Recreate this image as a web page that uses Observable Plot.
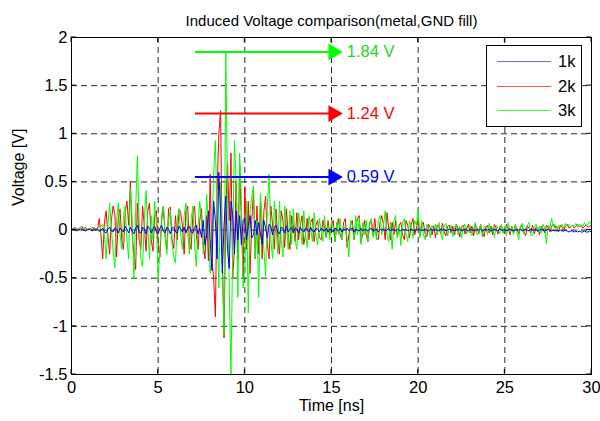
<!DOCTYPE html>
<html><head><meta charset="utf-8">
<script src="https://cdn.jsdelivr.net/npm/d3@7"></script>
<script src="https://cdn.jsdelivr.net/npm/@observablehq/plot@0.6"></script>
<style>body{margin:0;background:#fff;} #chart{width:600px;height:421px;}</style>
</head><body><div id="chart"></div>
<script>
const seriesNames = ["1k", "2k", "3k"];
const seriesColors = ["#0000ff", "#ff0000", "#00ff00"];
const legendColors = ["#6b6bff", "#ff5050", "#40ff40"];
const timeStart = 0;
const timeStep = 0.1;

const v1k = [
 0.00,0.01,0.00,-0.01,0.01,0.00,0.01,0.00,-0.01,0.00,
 0.01,0.00,-0.01,0.01,0.00,0.01,-0.01,0.00,0.02,-0.02,
 -0.03,0.01,0.03,-0.01,-0.02,0.02,0.01,-0.03,0.02,0.00,
 -0.02,0.04,0.01,-0.03,0.03,-0.01,-0.04,0.02,0.05,-0.02,
 -0.03,0.03,0.01,-0.04,0.04,0.02,-0.03,0.01,0.04,-0.02,
 -0.04,0.02,0.05,-0.01,-0.03,0.03,0.01,-0.04,0.02,0.03,
 -0.02,-0.03,0.04,0.01,-0.02,0.03,-0.03,0.02,0.04,-0.02,
 -0.03,0.03,0.05,-0.04,0.02,-0.08,0.10,-0.15,-0.05,0.20,
 -0.10,-0.42,0.30,0.10,-0.30,0.60,0.20,-0.45,0.05,0.35,
 -0.20,-0.40,0.30,0.15,-0.25,0.20,-0.10,0.15,-0.15,0.10,
 0.12,-0.10,0.05,0.15,-0.08,-0.05,0.10,-0.05,0.08,-0.04,
 -0.15,0.10,0.02,-0.08,0.06,0.04,-0.05,0.03,0.05,-0.02,
 -0.04,0.03,0.02,-0.03,0.04,-0.02,0.01,0.03,-0.03,0.02,
 0.01,-0.03,0.03,0.00,-0.02,0.02,0.01,-0.02,0.03,-0.01,
 -0.02,0.02,0.01,-0.02,0.02,0.00,-0.01,0.02,-0.02,0.01,
 0.00,-0.02,0.02,0.01,-0.01,0.02,-0.02,0.01,0.00,0.02,
 -0.01,0.01,0.02,-0.02,0.01,0.00,-0.01,0.02,-0.01,0.01,
 0.00,-0.01,0.01,0.02,-0.01,0.00,0.01,-0.02,0.01,0.00,
 0.01,-0.01,0.00,0.02,-0.01,0.01,0.00,-0.01,0.01,0.00,
 -0.01,0.01,0.00,0.01,-0.01,0.00,0.01,0.00,-0.01,0.01,
 0.00,0.01,-0.01,0.00,0.01,0.00,-0.01,0.01,0.00,0.00,
 0.01,0.00,-0.01,0.01,0.00,0.01,-0.01,0.00,0.01,0.00,
 0.00,-0.01,0.01,0.00,0.01,-0.01,0.00,0.01,0.00,-0.01,
 0.01,0.00,0.00,-0.01,0.01,0.00,0.01,-0.01,0.00,0.01,
 0.00,0.01,-0.01,0.00,0.01,0.00,-0.01,0.01,0.00,0.00,
 0.01,-0.01,0.00,0.01,0.00,-0.01,0.01,0.00,0.00,0.01,
 -0.01,0.00,0.01,0.00,-0.01,0.01,0.00,0.00,0.01,-0.01,
 0.00,0.01,0.00,-0.01,0.00,0.01,0.00,-0.01,0.00,-0.01,
 0.00,-0.01,0.00,-0.01,-0.01,0.00,-0.01,-0.02,-0.01,-0.01,
 -0.02,-0.01,-0.02,-0.01,-0.02,-0.02,-0.01,-0.02,-0.02,-0.01,
 -0.02
];

const v2k = [
 0.02,0.00,0.03,0.01,-0.01,0.02,0.04,0.00,0.03,0.01,
 0.00,0.02,-0.01,0.03,0.01,0.00,0.12,-0.05,-0.30,0.08,
 0.20,-0.05,-0.25,0.10,0.25,0.17,-0.28,0.12,0.22,-0.10,
 -0.20,0.18,0.30,0.05,0.51,-0.05,-0.25,-0.41,0.28,-0.10,
 -0.20,0.25,0.05,-0.22,0.20,0.28,-0.10,-0.22,0.15,0.20,
 -0.15,-0.28,0.10,0.25,-0.05,-0.20,0.22,0.24,-0.10,-0.19,
 0.15,-0.10,0.22,0.18,0.05,-0.25,0.20,0.25,-0.12,-0.20,
 0.15,0.25,-0.05,-0.20,0.10,0.22,-0.15,-0.30,0.15,-0.32,
 0.58,-0.30,-0.50,-0.90,0.40,1.00,1.24,-0.30,-1.12,0.20,
 0.70,0.10,0.80,-0.50,-0.20,0.50,-0.30,0.69,0.10,-0.50,
 0.45,-0.20,0.30,-0.45,0.10,0.40,-0.30,0.25,-0.25,0.30,
 -0.30,0.20,0.35,-0.15,-0.30,0.25,0.05,-0.20,0.22,-0.10,
 -0.25,0.20,0.10,-0.18,0.22,-0.05,-0.20,0.15,0.05,-0.12,
 0.18,-0.10,0.05,0.15,-0.15,-0.05,0.12,-0.10,0.08,0.12,
 -0.12,0.05,0.10,-0.08,-0.10,0.10,0.02,-0.08,0.10,-0.05,
 0.05,0.10,-0.12,0.02,0.12,-0.05,-0.10,0.08,0.12,-0.18,
 -0.05,0.05,0.10,-0.10,0.02,0.12,0.15,-0.12,-0.05,0.10,
 -0.05,-0.12,0.08,0.10,-0.05,0.12,-0.08,-0.10,0.08,0.15,
 0.05,-0.10,0.18,0.02,-0.10,0.08,-0.05,0.10,-0.08,0.05,
 0.08,-0.05,-0.10,0.10,0.05,-0.08,0.06,0.12,-0.05,0.02,
 0.10,-0.06,0.05,0.08,-0.04,-0.07,0.06,0.02,-0.05,0.04,
 -0.08,0.05,0.03,-0.04,0.07,-0.02,-0.06,0.04,0.05,-0.03,
 0.04,-0.05,0.06,0.02,-0.07,0.03,0.05,-0.04,0.02,0.06,
 -0.03,0.04,-0.06,0.05,0.02,-0.04,0.06,-0.02,-0.07,0.03,
 0.05,-0.03,0.04,-0.05,0.06,0.02,-0.04,0.03,0.05,-0.02,
 -0.04,0.06,0.02,-0.05,0.04,-0.03,0.05,0.02,-0.04,0.03,
 0.05,-0.02,-0.06,0.04,0.02,-0.03,0.05,-0.04,0.03,0.02,
 -0.05,0.04,0.02,-0.03,0.05,0.03,-0.02,0.04,0.06,0.02,
 0.04,-0.02,0.05,0.03,0.00,0.04,0.06,0.02,0.03,0.05,
 0.02,0.04,0.06,0.03,0.05,0.02,0.04,0.05,0.03,0.04,
 0.05
];

const v3k = [
 0.01,0.02,0.00,0.02,0.01,0.03,0.00,0.02,0.01,0.00,
 0.02,0.01,0.03,0.00,0.02,0.01,-0.02,0.04,0.06,-0.05,
 -0.30,0.05,0.28,0.02,-0.22,-0.39,0.10,0.28,-0.05,-0.20,
 0.15,0.25,-0.10,-0.30,0.44,0.10,-0.51,0.20,0.77,0.10,
 -0.30,-0.38,0.10,0.41,0.05,-0.30,0.15,-0.10,0.30,0.05,
 -0.51,-0.20,0.15,0.25,-0.05,-0.25,0.10,0.20,-0.15,-0.28,
 -0.34,0.10,0.22,-0.05,-0.20,0.15,0.28,0.00,-0.25,0.10,
 0.25,-0.15,-0.38,0.05,0.30,0.10,-0.25,-0.10,0.37,0.05,
 -0.45,-0.20,0.60,0.93,0.10,-0.60,0.50,-0.30,-1.08,1.84,
 0.40,-0.60,-1.50,-0.20,0.93,0.50,-0.70,0.80,0.30,-0.60,
 -0.40,0.30,-0.86,0.20,0.35,0.46,-0.30,0.10,-0.70,0.38,
 0.10,-0.20,-0.48,0.25,0.58,-0.10,-0.30,0.30,0.05,-0.25,
 0.30,-0.10,-0.28,0.25,0.05,-0.20,0.20,-0.15,0.22,-0.10,
 -0.20,0.18,0.05,-0.15,0.20,-0.05,-0.18,0.15,0.02,-0.12,
 0.18,-0.05,-0.15,0.12,0.00,-0.12,0.15,-0.08,0.05,-0.10,
 0.10,0.02,-0.12,0.08,-0.05,0.12,-0.10,0.05,0.00,-0.08,
 -0.28,0.10,0.05,-0.10,0.15,-0.05,0.12,-0.15,0.08,-0.05,
 0.10,-0.12,0.05,0.12,-0.08,0.02,-0.10,0.10,0.15,-0.05,
 0.05,0.20,-0.05,-0.12,0.08,-0.20,0.10,0.15,-0.08,0.05,
 -0.16,0.08,0.12,-0.05,-0.12,0.10,0.02,-0.08,0.10,0.05,
 0.22,-0.08,0.10,-0.04,-0.10,0.06,0.02,-0.08,0.05,0.00,
 0.06,-0.05,0.08,-0.03,-0.10,0.04,0.07,-0.06,0.02,0.05,
 -0.07,0.03,0.06,-0.05,0.04,-0.08,0.02,0.06,-0.04,0.03,
 0.05,-0.06,0.02,0.08,-0.05,-0.02,0.06,-0.07,0.03,0.04,
 -0.05,0.07,-0.02,0.03,-0.08,0.05,0.02,-0.04,0.06,-0.03,
 0.04,-0.06,0.08,-0.02,0.03,-0.05,0.06,-0.03,-0.10,0.04,
 0.07,-0.04,0.02,0.05,0.08,-0.06,-0.05,0.03,0.06,-0.02,
 0.04,-0.03,0.06,0.02,-0.14,0.05,0.02,0.12,0.03,0.06,
 -0.02,0.05,0.03,0.06,0.02,0.07,0.04,0.06,0.03,0.05,
 0.04,0.07,0.03,0.06,0.05,0.04,0.08,0.05,0.06,0.09,
 0.06
];

const xTicks = [0, 5, 10, 15, 20, 25, 30];
const yTicks = [-1.5, -1, -0.5, 0, 0.5, 1, 1.5, 2];

// peak annotations
const arrowLevels = [0.55, 1.21, 1.85];
const arrowLabels = ["0.59 V", "1.24 V", "1.84 V"];
const arrowLineColors = ["#0000ff", "#ff0000", "#00ff00"];
const arrowTextColors = ["#0000ff", "#ff0000", "#22d422"];
const arrowFrom = 7.15;
const arrowHeadAt = 15.1;
const arrowTip = 15.65;

const titleText = "Induced Voltage comparison(metal,GND fill)";
const xLabel = "Time [ns]";
const yLabel = "Voltage [V]";

const seriesValues = [v1k, v2k, v3k];
const rows = [];
seriesValues.forEach((vals, k) => vals.forEach((v, i) => rows.push({t: timeStart + i * timeStep, v, s: seriesNames[k]})));
const arrows = arrowLevels.map((y, i) => ({y, label: arrowLabels[i], line: arrowLineColors[i], text: arrowTextColors[i], x1: arrowFrom, x2: arrowHeadAt, tip: arrowTip}));

const font = "Arial, 'Liberation Sans', Helvetica, sans-serif";
const fmt = d => String(d);

const chart = Plot.plot({
  width: 600, height: 421,
  marginLeft: 71, marginRight: 9, marginTop: 37, marginBottom: 47,
  style: {fontFamily: font, fontSize: "16px", background: "#fff", color: "#000"},
  x: {domain: [0, 30]},
  y: {domain: [-1.5, 2]},
  color: {domain: seriesNames, range: seriesColors},
  marks: [
    Plot.gridX(xTicks, {stroke: "#000", strokeOpacity: 0.85, strokeDasharray: "6,4", strokeWidth: 1}),
    Plot.gridY(yTicks, {stroke: "#000", strokeOpacity: 0.85, strokeDasharray: "6,4", strokeWidth: 1}),
    Plot.lineY(rows.filter(d => d.s === "2k"), {x: "t", y: "v", stroke: "s", strokeWidth: 1, clip: true}),
    Plot.lineY(rows.filter(d => d.s === "3k"), {x: "t", y: "v", stroke: "s", strokeWidth: 1, clip: true}),
    Plot.lineY(rows.filter(d => d.s === "1k"), {x: "t", y: "v", stroke: "s", strokeWidth: 1, clip: true}),
    Plot.ruleY(arrows, {y: "y", x1: "x1", x2: "x2", stroke: "line", strokeWidth: 2}),
    Plot.dot(arrows, {x: "x2", y: "y", symbol: "triangle", rotate: 90, r: 6.2, fill: "line", stroke: "none"}),
    Plot.text(arrows, {x: "tip", y: "y", text: "label", fill: "text", textAnchor: "start", dx: 4, fontSize: 16.5}),
    Plot.frame({stroke: "#000", strokeWidth: 1}),
    Plot.axisX(xTicks, {tickSize: 0, tickPadding: 7, tickFormat: fmt, fontSize: 16.5, label: null}),
    Plot.axisY(yTicks, {tickSize: 0, tickPadding: 4, tickFormat: fmt, fontSize: 16.5, label: null}),
    Plot.text([titleText], {frameAnchor: "top", dy: -22, fontSize: 15}),
    Plot.text([xLabel], {frameAnchor: "bottom", dy: 36, fontSize: 16}),
    Plot.text([yLabel], {frameAnchor: "left", dx: -53, rotate: -90, fontSize: 16})
  ]
});

// inward tick marks on all four sides and the legend box
const sx = chart.scale("x"), sy = chart.scale("y");
const svg = d3.select(chart);
const [xl, xr] = sx.range, [yb, yt] = sy.range;
const tg = svg.append("g").attr("stroke", "#000").attr("stroke-width", 1);
xTicks.forEach(t => {
  const x = sx.apply(t);
  tg.append("line").attr("x1", x).attr("x2", x).attr("y1", yb).attr("y2", yb - 5);
  tg.append("line").attr("x1", x).attr("x2", x).attr("y1", yt).attr("y2", yt + 5);
});
yTicks.forEach(t => {
  const y = sy.apply(t);
  tg.append("line").attr("x1", xl).attr("x2", xl + 5).attr("y1", y).attr("y2", y);
  tg.append("line").attr("x1", xr).attr("x2", xr - 5).attr("y1", y).attr("y2", y);
});

const lg = svg.append("g").attr("font-family", font).attr("font-size", 16.5).attr("text-anchor", "start");
lg.append("rect").attr("x", 486.5).attr("y", 45.5).attr("width", 95).attr("height", 81)
  .attr("fill", "#fff").attr("stroke", "#000").attr("stroke-width", 1);
seriesNames.forEach((name, i) => {
  const y = 61.5 + i * 24.5;
  const yl = Math.round(y - 0.5) + 0.5;
  lg.append("line").attr("x1", 497).attr("x2", 551).attr("y1", yl).attr("y2", yl)
    .attr("stroke", legendColors[i]).attr("stroke-width", 1);
  lg.append("text").attr("x", 558).attr("y", y).attr("dy", "0.35em").attr("fill", "#000")
    .attr("text-anchor", "start").text(name);
});

document.getElementById("chart").append(chart);
</script>
</body></html>
